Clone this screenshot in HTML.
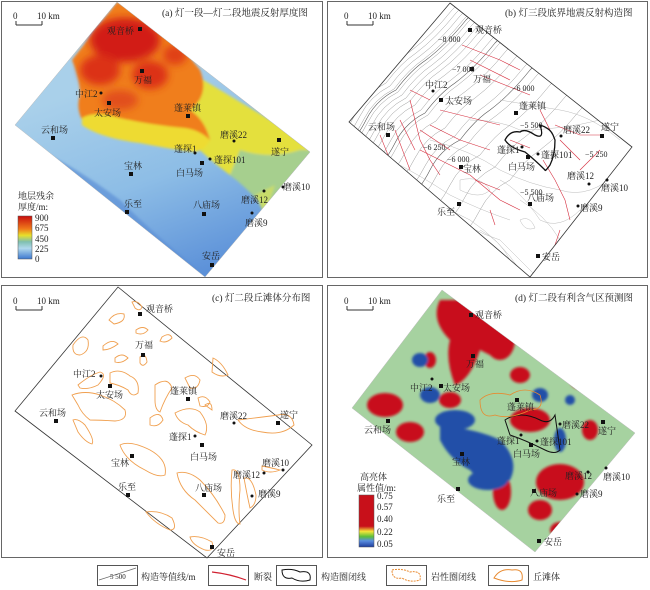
<!DOCTYPE html>
<html><head><meta charset="utf-8"><style>
body{margin:0;background:#fff;}
svg{display:block;font-family:"Liberation Serif","Noto Serif CJK SC",serif;}
text{font-size:9px;fill:#222;}
</style></head><body>
<svg width="650" height="590" viewBox="0 0 650 590" xmlns="http://www.w3.org/2000/svg">
<defs>
<filter id="bl" x="-20%" y="-20%" width="140%" height="140%"><feGaussianBlur stdDeviation="4"/></filter>
<filter id="bl2" x="-20%" y="-20%" width="140%" height="140%"><feGaussianBlur stdDeviation="1.2"/></filter>
<clipPath id="ca"><polygon points="117,2 310,152 205,277 15,125"/></clipPath>
<clipPath id="cb"><polygon points="450,3 632,147 530,277 349,122"/></clipPath>
<clipPath id="cd"><polygon points="442,290 635,433 535,552 352,408"/></clipPath>
<linearGradient id="leg" x1="0" y1="0" x2="0" y2="1">
<stop offset="0" stop-color="#c80e0e"/><stop offset="0.3" stop-color="#f07a1a"/><stop offset="0.45" stop-color="#e8e02a"/><stop offset="0.6" stop-color="#7fbfb0"/><stop offset="0.75" stop-color="#b0d8ec"/><stop offset="1" stop-color="#3c78d0"/></linearGradient>
<linearGradient id="legd" x1="0" y1="0" x2="0" y2="1">
<stop offset="0" stop-color="#c8101a"/><stop offset="0.6" stop-color="#c8101a"/><stop offset="0.7" stop-color="#f5e63a"/><stop offset="0.8" stop-color="#5cbf3a"/><stop offset="0.88" stop-color="#5a8ee0"/><stop offset="1" stop-color="#1e3c9c"/></linearGradient>
<linearGradient id="gbl" x1="0.3" y1="0.3" x2="0.6" y2="1">
<stop offset="0" stop-color="#a9d0ea"/><stop offset="0.5" stop-color="#8dbde6"/><stop offset="1" stop-color="#5a8fd8"/></linearGradient>
<path id="ct" d="M-30,140 Q-10,120 0,100 Q10,80 30,70 Q45,50 60,40 Q80,25 100,0 Q110,-10 120,-20" fill="none"/>
</defs>
<!-- frames -->
<rect x="1.5" y="1.5" width="321" height="276" fill="none" stroke="#666"/>
<rect x="327.5" y="1.5" width="320" height="276" fill="none" stroke="#666"/>
<rect x="1.5" y="285.5" width="321" height="272" fill="none" stroke="#666"/>
<rect x="327.5" y="285.5" width="320" height="272" fill="none" stroke="#666"/>

<!-- (a) -->
<g clip-path="url(#ca)">
<rect x="0" y="0" width="325" height="280" fill="url(#gbl)"/>
<g filter="url(#bl2)">
<path d="M40,150 Q80,170 120,200 Q160,240 200,270 L120,290 L0,200 Z" fill="#5d8fd6" opacity="0.7"/>
<path d="M170,60 L320,150 L280,200 Q250,190 230,175 Q210,160 200,150 Z" fill="#e4e03c"/>
<path d="M240,150 Q270,160 300,150 L320,150 L270,215 Q250,190 230,175 Z" fill="#a6cf8e"/>
<path d="M255,195 L275,185 L265,215 Z" fill="#c8dc6a"/>
<path d="M72,60 Q80,80 80,95 Q75,110 85,125 Q110,135 140,140 Q165,142 180,148 Q200,150 210,140 Q205,120 190,110 Q210,95 200,70 L160,20 L117,2 Z" fill="#f07e1e"/>
<path d="M82,125 Q100,138 140,143 Q175,150 195,152 Q205,150 210,140 Q200,130 185,128 Q150,125 120,118 Q95,110 82,118 Z" fill="#eedb30"/>
</g>
<g filter="url(#bl)">
<ellipse cx="125" cy="40" rx="35" ry="22" fill="#d21a14"/>
<ellipse cx="100" cy="70" rx="20" ry="15" fill="#dc3018"/>
<ellipse cx="150" cy="75" rx="18" ry="14" fill="#dc3018"/>
<ellipse cx="120" cy="100" rx="18" ry="10" fill="#e2501a"/>
<ellipse cx="175" cy="55" rx="12" ry="10" fill="#e04018"/>
</g>
</g>
<polygon points="117,2 310,152 205,277 15,125" fill="none" stroke="#bbb" stroke-width="0.5"/>
<line x1="16" y1="25" x2="42" y2="25" stroke="#333"/><line x1="16" y1="21" x2="16" y2="25" stroke="#333"/><line x1="42" y1="21" x2="42" y2="25" stroke="#333"/>
<text x="13" y="19">0</text><text x="37" y="19">10 km</text>
<text x="162" y="16" style="font-size:9.5px">(a) 灯一段—灯二段地震反射厚度图</text>
<g fill="#111">
<rect x="138" y="27" width="4" height="4"/><rect x="140" y="69" width="4" height="4"/><rect x="107" y="101" width="4" height="4"/>
<rect x="186" y="114" width="4" height="4"/><rect x="51" y="136" width="4" height="4"/><rect x="277" y="138" width="4" height="4"/>
<rect x="200" y="161" width="4" height="4"/><rect x="129" y="172" width="4" height="4"/><rect x="125" y="210" width="4" height="4"/>
<rect x="202" y="212" width="4" height="4"/><rect x="210" y="263" width="4" height="4"/>
<circle cx="101" cy="93" r="1.5"/><circle cx="195" cy="153" r="1.5"/><circle cx="210" cy="159" r="1.5"/><circle cx="234" cy="141" r="1.5"/><circle cx="264" cy="191" r="1.5"/><circle cx="283" cy="187" r="1.5"/><circle cx="252" cy="213" r="1.5"/>
</g>
<text x="107" y="34">观音桥</text><text x="134" y="83">万福</text><text x="75" y="97">中江2</text><text x="94" y="116">太安场</text>
<text x="174" y="111">蓬莱镇</text><text x="41" y="133">云和场</text><text x="220" y="138">磨溪22</text><text x="271" y="155">遂宁</text>
<text x="174" y="152">蓬探1</text><text x="214" y="163">蓬探101</text><text x="176" y="176">白马场</text><text x="124" y="169">宝林</text>
<text x="283" y="190">磨溪10</text><text x="241" y="203">磨溪12</text><text x="124" y="207">乐至</text><text x="193" y="208">八庙场</text>
<text x="245" y="226">磨溪9</text><text x="202" y="259">安岳</text>
<text x="18" y="199">地层残余</text><text x="18" y="210">厚度/m:</text>
<rect x="18" y="216" width="14" height="43" fill="url(#leg)" stroke="#555" stroke-width="0.5"/>
<text x="35" y="221">900</text><text x="35" y="231">675</text><text x="35" y="242">450</text><text x="35" y="252">225</text><text x="35" y="262">0</text>

<!-- (b) -->
<g clip-path="url(#cb)">
<g stroke="#999" stroke-width="0.5">
<use href="#ct" transform="translate(352,10)"/><use href="#ct" transform="translate(356,13)"/><use href="#ct" transform="translate(360,16)"/>
<use href="#ct" transform="translate(364,19)"/><use href="#ct" transform="translate(368,22)"/><use href="#ct" transform="translate(372,25)"/>
<use href="#ct" transform="translate(376,28)"/><use href="#ct" transform="translate(380,31)"/><use href="#ct" transform="translate(385,35)"/>
<use href="#ct" transform="translate(391,40)"/><use href="#ct" transform="translate(398,45)"/><use href="#ct" transform="translate(406,51)"/>
<use href="#ct" transform="translate(415,58)"/><use href="#ct" transform="translate(425,66)"/><use href="#ct" transform="translate(437,75)"/>
<use href="#ct" transform="translate(450,85)"/><use href="#ct" transform="translate(465,97)"/><use href="#ct" transform="translate(480,110)"/>
</g>
<g stroke="#555" stroke-width="0.6">
<use href="#ct" transform="translate(366,20)"/><use href="#ct" transform="translate(395,43)"/><use href="#ct" transform="translate(430,70)"/>
</g>
<g fill="none" stroke="#bbb" stroke-width="0.5">
<path d="M380,170 Q420,190 440,210 Q470,230 500,240 Q520,260 540,280"/>
<path d="M390,160 Q420,175 450,195 Q480,210 510,220"/>
<path d="M430,140 Q470,150 500,170 Q530,185 560,190 Q590,200 620,170"/>
<path d="M470,120 Q500,120 520,130 Q560,130 600,120"/>
<path d="M500,100 Q530,105 560,110 Q590,115 620,140"/>
<path d="M520,200 Q545,215 560,240 Q570,255 590,240"/>
<path d="M480,230 Q500,240 510,260"/>
<path d="M400,185 Q440,205 470,220 Q500,240 520,270"/>
<path d="M500,180 Q520,190 540,220 Q560,230 580,210"/>
<path d="M460,180 Q480,175 490,190 Q480,200 460,190 Z"/>
<path d="M520,220 Q530,215 535,228 Q525,232 520,220 Z"/>
</g>
<g fill="none" stroke="#d63040" stroke-width="0.6">
<path d="M462,45 L500,60 L520,70"/><path d="M470,60 L510,80"/><path d="M480,75 L530,95"/><path d="M410,90 L430,100"/>
<path d="M440,110 L480,120 L500,125"/><path d="M430,125 L460,140 L490,150"/><path d="M420,130 L450,150"/>
<path d="M410,100 L420,140 L430,160 L440,175"/><path d="M400,120 L415,150"/><path d="M395,130 L410,170"/>
<path d="M420,150 L470,175 L500,200 L520,210"/><path d="M380,135 L390,160 L410,180"/>
<path d="M540,110 L550,130"/><path d="M555,125 L580,135 L600,135"/><path d="M560,140 L580,160"/>
<path d="M543,160 L555,180 L565,200 L570,220"/><path d="M580,170 L600,150"/><path d="M475,180 L500,190"/>
<path d="M560,230 L555,245"/><path d="M490,210 L495,225"/><path d="M510,140 L530,148"/>
</g>
</g>
<polygon points="450,3 632,147 530,277 349,122" fill="none" stroke="#333" stroke-width="0.8"/>
<path d="M505,140 Q510,130 520,132 Q525,128 535,135 Q545,140 540,125 Q550,128 553,135 L555,140 Q555,155 550,165 Q545,172 545,170 Q535,160 525,152 Q510,148 505,140 Z" fill="none" stroke="#111" stroke-width="1.3"/>
<line x1="347" y1="25" x2="373" y2="25" stroke="#333"/><line x1="347" y1="21" x2="347" y2="25" stroke="#333"/><line x1="373" y1="21" x2="373" y2="25" stroke="#333"/>
<text x="344" y="19">0</text><text x="368" y="19">10 km</text>
<text x="505" y="16" style="font-size:9.5px">(b) 灯三段底界地震反射构造图</text>
<g fill="#111">
<rect x="468" y="28" width="4" height="4"/><rect x="470" y="67" width="4" height="4"/><rect x="439" y="98" width="4" height="4"/>
<rect x="514" y="111" width="4" height="4"/><rect x="386" y="133" width="4" height="4"/><rect x="600" y="134" width="4" height="4"/>
<rect x="526" y="155" width="4" height="4"/><rect x="459" y="165" width="4" height="4"/><rect x="457" y="202" width="4" height="4"/>
<rect x="528" y="202" width="4" height="4"/><rect x="536" y="254" width="4" height="4"/>
<circle cx="433" cy="91" r="1.5"/><circle cx="522" cy="147" r="1.5"/><circle cx="538" cy="154" r="1.5"/><circle cx="561" cy="136" r="1.5"/><circle cx="589" cy="184" r="1.5"/><circle cx="607" cy="180" r="1.5"/><circle cx="578" cy="206" r="1.5"/>
</g>
<text x="475" y="33">观音桥</text><text x="473" y="82">万福</text><text x="425" y="88">中江2</text><text x="445" y="104">太安场</text>
<text x="519" y="109">蓬莱镇</text><text x="368" y="130">云和场</text><text x="563" y="133">磨溪22</text><text x="601" y="130">遂宁</text>
<text x="497" y="153">蓬探1</text><text x="541" y="158">蓬探101</text><text x="508" y="170">白马场</text><text x="463" y="172">宝林</text>
<text x="601" y="191">磨溪10</text><text x="567" y="179">磨溪12</text><text x="437" y="215">乐至</text><text x="527" y="201">八庙场</text>
<text x="580" y="211">磨溪9</text><text x="542" y="260">安岳</text>
<text x="438" y="42" style="font-size:8px">−8 000</text><text x="452" y="72" style="font-size:8px">−7 000</text><text x="512" y="91" style="font-size:8px">−6 000</text>
<text x="520" y="128" style="font-size:8px">−5 500</text><text x="423" y="150" style="font-size:8px">−6 250</text><text x="447" y="162" style="font-size:8px">−6 000</text>
<text x="585" y="157" style="font-size:8px">−5 250</text><text x="520" y="195" style="font-size:8px">−5 500</text>

<!-- (c) -->
<polygon points="118,287 312,445 207,558 15,411" fill="#fff" stroke="#333" stroke-width="0.8"/>
<g fill="none" stroke="#f0a050" stroke-width="0.9">
<path d="M132,302 Q138,300 142,307 Q140,312 135,308 Z"/>
<path d="M109,320 Q115,312 124,314 Q126,322 114,324 Z"/>
<path d="M136,330 Q143,325 148,330 Q143,336 136,333 Z"/>
<path d="M162,337 Q170,332 172,338 Q166,344 160,341 Z"/>
<path d="M103,346 Q112,338 118,344 Q110,350 103,350 Z"/>
<path d="M73,345 Q82,332 88,340 Q90,352 80,355 Q72,355 73,345 Z"/>
<path d="M140,357 Q146,352 147,362 Q143,368 140,363 Z"/>
<path d="M115,358 Q122,352 128,358 Q122,364 115,362 Z"/>
<path d="M78,385 Q90,375 100,372 Q108,374 98,385 Q88,390 80,388 Z"/>
<path d="M110,373 Q120,368 130,376 Q140,380 138,393 Q132,398 128,390 Q120,385 110,383 Z"/>
<path d="M72,395 Q85,390 100,395 Q115,400 125,410 Q128,420 115,421 Q100,420 90,420 Q82,414 78,405 Z"/>
<path d="M73,420 Q78,418 85,425 Q95,440 92,444 Q85,442 78,432 Z"/>
<path d="M120,445 Q130,440 150,450 Q168,460 165,475 Q158,478 145,470 Q125,460 120,445 Z"/>
<path d="M155,385 Q168,376 172,388 Q165,398 160,412 Q155,410 155,400 Z"/>
<path d="M150,418 Q160,410 163,420 Q158,428 150,425 Z"/>
<path d="M175,413 Q190,405 200,412 Q210,425 205,435 Q195,432 188,425 Q178,422 175,413 Z"/>
<path d="M185,378 Q195,372 200,380 Q198,390 190,388 Z"/>
<path d="M198,398 Q205,394 210,402 Q208,408 200,406 Z"/>
<path d="M205,405 Q212,400 212,410 Z"/>
<path d="M213,358 Q222,362 228,375 Q220,378 212,372 Z"/>
<path d="M238,420 Q255,418 278,415 Q292,412 294,425 Q282,436 262,432 Q245,430 238,420 Z"/>
<path d="M177,473 Q188,470 200,480 Q215,495 225,515 Q225,525 218,523 Q205,510 195,500 Q180,490 177,473 Z"/>
<path d="M232,470 Q240,468 240,490 Q238,510 240,524 Q235,524 233,510 Q230,490 232,470 Z"/>
<path d="M244,478 Q252,476 256,495 Q256,505 250,508 Q247,495 244,478 Z"/>
<path d="M262,466 Q272,468 280,470 Q270,474 262,470 Z"/>
<path d="M146,512 Q160,510 172,518 Q178,530 170,530 Q155,524 146,512 Z"/>
<path d="M190,537 Q200,535 212,542 Q215,552 205,550 Q192,545 190,537 Z"/>
</g>
<line x1="16" y1="310" x2="42" y2="310" stroke="#333"/><line x1="16" y1="306" x2="16" y2="310" stroke="#333"/><line x1="42" y1="306" x2="42" y2="310" stroke="#333"/>
<text x="13" y="304">0</text><text x="37" y="304">10 km</text>
<text x="212" y="301" style="font-size:9.5px">(c) 灯二段丘滩体分布图</text>
<g fill="#111">
<rect x="138" y="312" width="4" height="4"/><rect x="141" y="353" width="4" height="4"/><rect x="108" y="384" width="4" height="4"/>
<rect x="186" y="397" width="4" height="4"/><rect x="54" y="419" width="4" height="4"/><rect x="276" y="421" width="4" height="4"/>
<rect x="200" y="443" width="4" height="4"/><rect x="130" y="454" width="4" height="4"/><rect x="126" y="493" width="4" height="4"/>
<rect x="202" y="493" width="4" height="4"/><rect x="210" y="545" width="4" height="4"/>
<circle cx="101" cy="376" r="1.5"/><circle cx="195" cy="436" r="1.5"/><circle cx="234" cy="423" r="1.5"/><circle cx="264" cy="473" r="1.5"/><circle cx="283" cy="470" r="1.5"/><circle cx="252" cy="496" r="1.5"/>
</g>
<text x="146" y="312">观音桥</text><text x="135" y="348">万福</text><text x="73" y="377">中江2</text><text x="96" y="398">太安场</text>
<text x="170" y="394">蓬莱镇</text><text x="39" y="416">云和场</text><text x="220" y="419">磨溪22</text><text x="280" y="418">遂宁</text>
<text x="169" y="440">蓬探1</text><text x="190" y="460">白马场</text><text x="111" y="466">宝林</text>
<text x="262" y="466">磨溪10</text><text x="233" y="478">磨溪12</text><text x="118" y="490">乐至</text><text x="195" y="491">八庙场</text>
<text x="258" y="497">磨溪9</text><text x="217" y="556">安岳</text>

<!-- (d) -->
<g clip-path="url(#cd)">
<rect x="330" y="285" width="320" height="275" fill="#a6d2a0"/>
<g filter="url(#bl2)">
<path d="M460,300 L520,320 Q520,345 500,360 L480,350 Q470,380 455,385 Q445,360 450,340 Q430,320 440,300 Z" fill="#c8101a"/>
<ellipse cx="500" cy="340" rx="15" ry="20" fill="#c8101a"/>
<ellipse cx="385" cy="405" rx="18" ry="12" fill="#c8101a"/>
<ellipse cx="410" cy="432" rx="14" ry="10" fill="#c8101a"/>
<ellipse cx="560" cy="482" rx="24" ry="18" fill="#c8101a"/>
<ellipse cx="502" cy="492" rx="9" ry="18" fill="#c8101a"/>
<ellipse cx="540" cy="510" rx="12" ry="10" fill="#c8101a"/>
<ellipse cx="530" cy="420" rx="20" ry="12" fill="#c8101a"/>
<ellipse cx="480" cy="452" rx="14" ry="8" fill="#c8101a"/>
<ellipse cx="580" cy="380" rx="10" ry="9" fill="#c8101a"/>
<ellipse cx="520" cy="375" rx="10" ry="8" fill="#c8101a"/>
<ellipse cx="450" cy="400" rx="11" ry="8" fill="#c8101a"/>
<ellipse cx="590" cy="430" rx="8" ry="10" fill="#c8101a"/>
<ellipse cx="430" cy="360" rx="6" ry="8" fill="#c8101a"/>
<ellipse cx="560" cy="530" rx="10" ry="8" fill="#c8101a"/>
<path d="M440,425 Q480,430 500,440 Q520,460 510,480 Q490,495 470,470 Q450,460 440,440 Z" fill="#2450a8"/>
<ellipse cx="455" cy="420" rx="20" ry="10" fill="#2450a8"/>
<ellipse cx="430" cy="395" rx="10" ry="8" fill="#2450a8"/>
<ellipse cx="420" cy="360" rx="8" ry="7" fill="#2450a8"/>
<ellipse cx="488" cy="480" rx="20" ry="10" fill="#2450a8"/>
<ellipse cx="560" cy="440" rx="6" ry="12" fill="#2450a8"/>
<ellipse cx="570" cy="400" rx="5" ry="5" fill="#2450a8"/>
<ellipse cx="540" cy="395" rx="8" ry="7" fill="#2450a8"/>
<ellipse cx="375" cy="340" rx="6" ry="8" fill="#2450a8"/>
</g>
</g>
<polygon points="442,290 635,433 535,552 352,408" fill="none" stroke="#bbb" stroke-width="0.5"/>
<path d="M505,420 Q520,410 540,420 Q550,425 555,415 L560,450 Q555,455 545,450 Q525,440 510,435 Z" fill="none" stroke="#111" stroke-width="1"/>
<path d="M480,400 Q490,390 510,395 Q525,385 540,395 Q545,410 530,410 Q510,420 495,415 Q480,420 480,400 Z" fill="none" stroke="#e88a30" stroke-width="0.8"/>
<line x1="347" y1="310" x2="373" y2="310" stroke="#333"/><line x1="347" y1="306" x2="347" y2="310" stroke="#333"/><line x1="373" y1="306" x2="373" y2="310" stroke="#333"/>
<text x="344" y="304">0</text><text x="368" y="304">10 km</text>
<text x="515" y="301" style="font-size:9.5px">(d) 灯二段有利含气区预测图</text>
<g fill="#111">
<rect x="469" y="313" width="4" height="4"/><rect x="471" y="354" width="4" height="4"/><rect x="439" y="384" width="4" height="4"/>
<rect x="515" y="398" width="4" height="4"/><rect x="386" y="419" width="4" height="4"/><rect x="601" y="420" width="4" height="4"/>
<rect x="529" y="443" width="4" height="4"/><rect x="460" y="452" width="4" height="4"/><rect x="456" y="487" width="4" height="4"/>
<rect x="532" y="489" width="4" height="4"/><rect x="537" y="539" width="4" height="4"/>
<circle cx="432" cy="379" r="1.5"/><circle cx="521" cy="435" r="1.5"/><circle cx="537" cy="441" r="1.5"/><circle cx="560" cy="424" r="1.5"/><circle cx="588" cy="472" r="1.5"/><circle cx="606" cy="468" r="1.5"/><circle cx="577" cy="494" r="1.5"/>
</g>
<text x="475" y="318">观音桥</text><text x="466" y="367">万福</text><text x="410" y="391">中江2</text><text x="443" y="391">太安场</text>
<text x="507" y="410">蓬莱镇</text><text x="364" y="433">云和场</text><text x="562" y="428">磨溪22</text><text x="598" y="434">遂宁</text>
<text x="497" y="444">蓬探1</text><text x="540" y="445">蓬探101</text><text x="513" y="457">白马场</text><text x="452" y="465">宝林</text>
<text x="603" y="480">磨溪10</text><text x="565" y="479">磨溪12</text><text x="437" y="502">乐至</text><text x="530" y="496">八庙场</text>
<text x="580" y="497">磨溪9</text><text x="544" y="545">安岳</text>
<text x="360" y="480">高亮体</text><text x="357" y="491">属性值/m:</text>
<rect x="359" y="495" width="15" height="52" fill="url(#legd)" stroke="#555" stroke-width="0.5"/>
<text x="377" y="499">0.75</text><text x="377" y="510">0.57</text><text x="377" y="522">0.40</text><text x="377" y="535">0.22</text><text x="377" y="547">0.05</text>

<!-- bottom legend -->
<rect x="97.5" y="565.5" width="40" height="20" fill="none" stroke="#555"/>
<path d="M99,580 Q115,575 136,568" fill="none" stroke="#666" stroke-width="0.7"/><text x="110" y="579" style="font-size:7px">5 500</text>
<text x="141" y="580">构造等值线/m</text>
<rect x="208.5" y="565.5" width="40" height="20" fill="none" stroke="#555"/>
<path d="M212,572 Q230,574 246,580" fill="none" stroke="#d02030" stroke-width="1.2"/>
<text x="254" y="580">断裂</text>
<rect x="276.5" y="565.5" width="40" height="20" fill="none" stroke="#555"/>
<path d="M282,570 Q292,568 300,572 Q312,570 310,580 Q300,583 292,578 Q282,580 282,570 Z" fill="none" stroke="#111"/>
<text x="321" y="580">构造圈闭线</text>
<rect x="386.5" y="565.5" width="40" height="20" fill="none" stroke="#555"/>
<path d="M392,570 Q402,568 410,572 Q422,570 420,580 Q410,583 402,578 Q392,580 392,570 Z" fill="none" stroke="#e88a30" stroke-dasharray="2,1"/>
<text x="431" y="580">岩性圈闭线</text>
<rect x="488.5" y="565.5" width="40" height="20" fill="none" stroke="#555"/>
<path d="M494,578 Q500,568 512,570 Q524,568 522,580 Q510,584 494,578 Z" fill="none" stroke="#e88a30"/>
<text x="533" y="580">丘滩体</text>
</svg>
</body></html>
